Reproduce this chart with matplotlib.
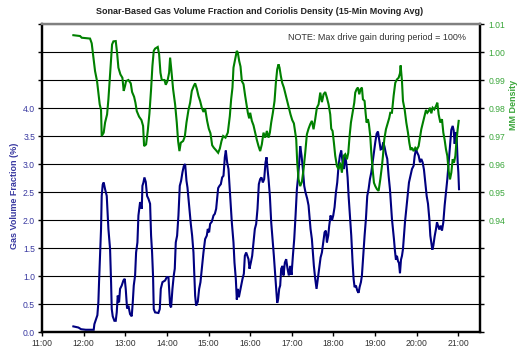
import numpy as np
import matplotlib
matplotlib.use("Agg")
import matplotlib.pyplot as plt

plt.rcParams['font.family'] = ['Liberation Sans', 'DejaVu Sans']

# Clock hours shown on the time axis
hour_ticks = list(range(11, 22))
hour_labels = [f"{h}:00" for h in hour_ticks]

# Sonar-based gas volume fraction (%), 15-min moving average; time in decimal hours
gvf_time = [
    11.753, 11.874, 11.938, 12.050, 12.242, 12.258, 12.298, 12.330, 12.354, 12.370,
    12.394, 12.418, 12.434, 12.458, 12.482, 12.515, 12.555, 12.595, 12.635, 12.659,
    12.675, 12.699, 12.739, 12.771, 12.795, 12.819, 12.851, 12.875, 12.915, 12.955,
    12.987, 13.011, 13.043, 13.075, 13.115, 13.155, 13.180, 13.204, 13.236, 13.260,
    13.292, 13.316, 13.356, 13.396, 13.412, 13.436, 13.460, 13.492, 13.524, 13.556,
    13.596, 13.620, 13.644, 13.668, 13.684, 13.716, 13.796, 13.829, 13.853, 13.893,
    13.957, 13.997, 14.037, 14.053, 14.077, 14.101, 14.133, 14.165, 14.189, 14.213,
    14.245, 14.277, 14.309, 14.341, 14.373, 14.405, 14.438, 14.470, 14.494, 14.518,
    14.542, 14.574, 14.606, 14.638, 14.662, 14.678, 14.702, 14.742, 14.774, 14.806,
    14.838, 14.878, 14.918, 14.958, 14.982, 15.014, 15.038, 15.079, 15.119, 15.151,
    15.183, 15.207, 15.231, 15.263, 15.295, 15.327, 15.359, 15.391, 15.415, 15.447,
    15.479, 15.519, 15.559, 15.599, 15.623, 15.655, 15.679, 15.703, 15.728, 15.760,
    15.784, 15.816, 15.848, 15.872, 15.904, 15.936, 15.960, 15.984, 16.016, 16.048,
    16.080, 16.112, 16.144, 16.176, 16.208, 16.240, 16.272, 16.304, 16.336, 16.369,
    16.393, 16.417, 16.441, 16.473, 16.505, 16.537, 16.569, 16.601, 16.625, 16.649,
    16.673, 16.697, 16.721, 16.745, 16.777, 16.801, 16.833, 16.865, 16.897, 16.929,
    16.961, 16.993, 17.026, 17.058, 17.090, 17.122, 17.146, 17.178, 17.202, 17.234,
    17.266, 17.298, 17.330, 17.370, 17.402, 17.450, 17.482, 17.506, 17.530, 17.562,
    17.594, 17.626, 17.659, 17.691, 17.723, 17.755, 17.787, 17.819, 17.843, 17.875,
    17.899, 17.931, 17.963, 17.995, 18.027, 18.059, 18.091, 18.123, 18.155, 18.187,
    18.219, 18.251, 18.284, 18.316, 18.340, 18.364, 18.396, 18.428, 18.460, 18.484,
    18.508, 18.540, 18.572, 18.604, 18.628, 18.660, 18.684, 18.716, 18.748, 18.780,
    18.812, 18.844, 18.876, 18.909, 18.941, 18.973, 19.005, 19.037, 19.069, 19.101,
    19.133, 19.165, 19.197, 19.229, 19.261, 19.293, 19.325, 19.357, 19.373, 19.405,
    19.429, 19.453, 19.477, 19.501, 19.525, 19.549, 19.574, 19.598, 19.622, 19.646,
    19.670, 19.694, 19.718, 19.750, 19.782, 19.814, 19.846, 19.886, 19.926, 19.950,
    19.982, 20.014, 20.046, 20.078, 20.110, 20.142, 20.174, 20.207, 20.239, 20.271,
    20.303, 20.327, 20.351, 20.375, 20.399, 20.431, 20.463, 20.487, 20.511, 20.543,
    20.575, 20.607, 20.639, 20.671, 20.703, 20.735, 20.767, 20.799, 20.831, 20.864,
    20.888, 20.912, 20.936, 20.960, 20.984, 21.000, 21.016,
]
gvf_pct = [
    0.10, 0.08, 0.05, 0.04, 0.04, 0.14, 0.23, 0.30, 0.53, 0.89,
    1.36, 1.84, 2.43, 2.63, 2.67, 2.55, 2.43, 1.84, 1.48, 0.89,
    0.41, 0.28, 0.20, 0.20, 0.35, 0.65, 0.53, 0.77, 0.83, 0.92,
    0.95, 0.77, 0.42, 0.47, 0.32, 0.28, 0.53, 0.83, 1.01, 1.42,
    1.60, 2.08, 2.32, 2.20, 2.61, 2.67, 2.76, 2.68, 2.43, 2.38,
    2.29, 1.72, 1.42, 0.98, 0.41, 0.35, 0.34, 0.41, 0.77, 0.89,
    0.92, 0.98, 0.98, 0.77, 0.47, 0.44, 0.77, 1.01, 1.13, 1.60,
    1.72, 2.08, 2.61, 2.70, 2.85, 2.96, 3.00, 2.70, 2.58, 2.38,
    2.20, 1.93, 1.72, 1.42, 0.95, 0.65, 0.47, 0.54, 0.77, 0.89,
    1.13, 1.42, 1.66, 1.72, 1.84, 1.78, 1.93, 1.97, 2.08, 2.11,
    2.20, 2.39, 2.57, 2.61, 2.64, 2.76, 2.79, 3.12, 3.24, 3.03,
    2.91, 2.43, 1.96, 1.60, 1.24, 0.95, 0.58, 0.77, 0.62, 0.74,
    0.83, 0.95, 1.04, 1.36, 1.42, 1.35, 1.30, 1.13, 1.24, 1.36,
    1.60, 1.84, 1.93, 2.20, 2.64, 2.73, 2.76, 2.67, 2.73, 3.03,
    3.12, 2.91, 2.73, 2.43, 1.96, 1.66, 1.36, 1.01, 0.77, 0.52,
    0.59, 0.77, 0.83, 1.13, 1.18, 1.01, 1.24, 1.30, 1.13, 1.01,
    1.18, 1.02, 1.36, 1.66, 2.08, 2.55, 2.73, 3.03, 3.32, 3.15,
    2.91, 2.61, 2.49, 2.38, 2.26, 1.84, 1.66, 1.42, 1.18, 0.95,
    0.77, 0.95, 1.13, 1.33, 1.42, 1.60, 1.78, 1.81, 1.60, 1.72,
    1.90, 2.08, 1.99, 2.08, 2.23, 2.49, 2.67, 2.97, 3.15, 3.24,
    3.03, 2.91, 3.15, 2.97, 2.76, 2.43, 2.08, 1.72, 1.24, 0.95,
    0.80, 0.83, 0.74, 0.70, 0.80, 0.89, 1.01, 1.36, 1.72, 2.02,
    2.43, 2.55, 2.73, 2.85, 3.03, 3.21, 3.39, 3.54, 3.58, 3.42,
    3.26, 3.27, 3.39, 3.30, 3.18, 3.09, 2.79, 2.55, 2.38, 2.02,
    1.84, 1.66, 1.45, 1.29, 1.36, 1.27, 1.23, 1.05, 1.29, 1.36,
    1.48, 1.72, 1.96, 2.20, 2.43, 2.67, 2.78, 2.91, 2.97, 3.14,
    3.26, 3.20, 3.15, 3.03, 3.09, 3.03, 2.90, 2.67, 2.43, 2.29,
    2.02, 1.72, 1.60, 1.47, 1.54, 1.71, 1.84, 1.96, 1.90, 1.83,
    1.90, 1.81, 1.96, 2.26, 2.49, 2.73, 3.03, 3.33, 3.61, 3.68,
    3.60, 3.36, 3.57, 3.46, 3.03, 2.85, 2.55,
]

# Coriolis mixture density, 15-min moving average
density_time = [
    11.753, 11.914, 11.954, 12.154, 12.194, 12.226, 12.274, 12.322, 12.354, 12.386,
    12.418, 12.434, 12.482, 12.515, 12.563, 12.595, 12.627, 12.659, 12.683, 12.715,
    12.771, 12.803, 12.835, 12.883, 12.931, 12.963, 12.995, 13.019, 13.075, 13.132,
    13.164, 13.212, 13.244, 13.276, 13.332, 13.388, 13.428, 13.452, 13.500, 13.540,
    13.580, 13.620, 13.652, 13.684, 13.716, 13.780, 13.813, 13.845, 13.877, 13.941,
    13.973, 14.013, 14.053, 14.077, 14.109, 14.149, 14.197, 14.237, 14.269, 14.301,
    14.333, 14.389, 14.430, 14.470, 14.518, 14.558, 14.598, 14.646, 14.678, 14.718,
    14.758, 14.798, 14.838, 14.878, 14.918, 14.966, 15.006, 15.046, 15.087, 15.127,
    15.175, 15.231, 15.271, 15.311, 15.351, 15.407, 15.463, 15.511, 15.543, 15.575,
    15.599, 15.639, 15.679, 15.703, 15.736, 15.768, 15.800, 15.840, 15.880, 15.912,
    15.944, 15.976, 16.000, 16.040, 16.080, 16.120, 16.160, 16.200, 16.240, 16.280,
    16.320, 16.361, 16.401, 16.441, 16.473, 16.505, 16.545, 16.585, 16.617, 16.649,
    16.681, 16.705, 16.737, 16.769, 16.809, 16.849, 16.889, 16.929, 16.969, 17.010,
    17.050, 17.082, 17.106, 17.130, 17.162, 17.202, 17.242, 17.282, 17.322, 17.362,
    17.402, 17.442, 17.482, 17.522, 17.562, 17.602, 17.643, 17.683, 17.723, 17.763,
    17.803, 17.843, 17.883, 17.923, 17.947, 17.979, 18.011, 18.043, 18.083, 18.123,
    18.163, 18.203, 18.243, 18.284, 18.324, 18.356, 18.388, 18.420, 18.460, 18.500,
    18.524, 18.556, 18.588, 18.620, 18.652, 18.684, 18.708, 18.748, 18.772, 18.796,
    18.828, 18.852, 18.884, 18.909, 18.941, 18.973, 19.005, 19.045, 19.085, 19.125,
    19.165, 19.189, 19.221, 19.261, 19.309, 19.341, 19.365, 19.405, 19.421, 19.445,
    19.485, 19.525, 19.566, 19.598, 19.614, 19.646, 19.670, 19.710, 19.750, 19.790,
    19.822, 19.854, 19.886, 19.926, 19.966, 20.006, 20.046, 20.078, 20.110, 20.150,
    20.190, 20.223, 20.255, 20.287, 20.319, 20.351, 20.383, 20.423, 20.463, 20.495,
    20.527, 20.567, 20.607, 20.639, 20.671, 20.703, 20.735, 20.767, 20.799, 20.831,
    20.864, 20.896, 20.928, 20.952, 20.984, 21.008,
]
density_mm = [
    1.0060, 1.0057, 1.0051, 1.0048, 1.0031, 0.9992, 0.9932, 0.9896, 0.9855, 0.9813,
    0.9793, 0.9700, 0.9712, 0.9748, 0.9777, 0.9831, 0.9902, 0.9974, 1.0027, 1.0038,
    1.0039, 0.9998, 0.9944, 0.9920, 0.9908, 0.9861, 0.9879, 0.9896, 0.9900, 0.9888,
    0.9857, 0.9840, 0.9819, 0.9789, 0.9769, 0.9757, 0.9736, 0.9664, 0.9670, 0.9718,
    0.9780, 0.9867, 0.9950, 1.0004, 1.0012, 1.0018, 0.9992, 0.9926, 0.9900, 0.9900,
    0.9883, 0.9896, 0.9926, 0.9980, 0.9932, 0.9867, 0.9813, 0.9748, 0.9682, 0.9646,
    0.9676, 0.9682, 0.9698, 0.9748, 0.9793, 0.9819, 0.9861, 0.9879, 0.9888, 0.9869,
    0.9843, 0.9825, 0.9801, 0.9786, 0.9798, 0.9754, 0.9726, 0.9710, 0.9667, 0.9658,
    0.9650, 0.9640, 0.9655, 0.9682, 0.9700, 0.9694, 0.9712, 0.9771, 0.9831, 0.9873,
    0.9944, 0.9974, 1.0004, 0.9998, 0.9968, 0.9948, 0.9896, 0.9885, 0.9843, 0.9813,
    0.9783, 0.9763, 0.9783, 0.9754, 0.9738, 0.9712, 0.9686, 0.9664, 0.9646, 0.9670,
    0.9712, 0.9694, 0.9718, 0.9694, 0.9712, 0.9748, 0.9783, 0.9825, 0.9890, 0.9938,
    0.9956, 0.9944, 0.9914, 0.9890, 0.9873, 0.9849, 0.9825, 0.9801, 0.9777, 0.9757,
    0.9745, 0.9712, 0.9688, 0.9605, 0.9545, 0.9521, 0.9536, 0.9581, 0.9640, 0.9706,
    0.9726, 0.9742, 0.9754, 0.9724, 0.9760, 0.9801, 0.9813, 0.9855, 0.9821, 0.9849,
    0.9857, 0.9837, 0.9813, 0.9777, 0.9726, 0.9718, 0.9676, 0.9629, 0.9593, 0.9581,
    0.9605, 0.9569, 0.9629, 0.9635, 0.9617, 0.9640, 0.9700, 0.9748, 0.9783, 0.9819,
    0.9855, 0.9867, 0.9873, 0.9849, 0.9867, 0.9873, 0.9831, 0.9825, 0.9783, 0.9748,
    0.9760, 0.9742, 0.9700, 0.9640, 0.9581, 0.9533, 0.9521, 0.9510, 0.9504, 0.9545,
    0.9593, 0.9629, 0.9688, 0.9724, 0.9748, 0.9765, 0.9783, 0.9783, 0.9807, 0.9843,
    0.9890, 0.9902, 0.9908, 0.9924, 0.9952, 0.9896, 0.9825, 0.9795, 0.9748, 0.9712,
    0.9676, 0.9650, 0.9658, 0.9646, 0.9658, 0.9652, 0.9664, 0.9694, 0.9724, 0.9748,
    0.9771, 0.9793, 0.9783, 0.9789, 0.9801, 0.9781, 0.9801, 0.9795, 0.9807, 0.9819,
    0.9777, 0.9748, 0.9760, 0.9712, 0.9686, 0.9652, 0.9629, 0.9575, 0.9545, 0.9569,
    0.9617, 0.9605, 0.9629, 0.9676, 0.9724, 0.9754,
]

gvf_ticks = np.arange(0, 5.51, 0.5)
gvf_labels = [f"{v:.1f}" if v <= 4.0 else "" for v in gvf_ticks]
density_ticks = np.round(np.arange(0.90, 1.0101, 0.01), 2)
density_labels = [f"{v:.2f}" if v >= 0.94 else "" for v in density_ticks]

BLUE = '#000080'
GREEN = '#008000'
BLUE_TXT = '#3838a0'
GREEN_TXT = '#3aa63a'

fig = plt.figure(figsize=(5.18, 3.5), dpi=100)
ax = fig.add_axes([42 / 518, 18 / 350, 438 / 518, 308 / 350])
ax2 = ax.twinx()

ax.set_xlim(11.0, 21.52)
ax.set_ylim(0, 5.5)
ax2.set_ylim(0.90, 1.01)

ax.set_yticks(gvf_ticks)
ax.set_yticklabels(gvf_labels)
ax2.set_yticks(density_ticks)
ax2.set_yticklabels(density_labels)
ax.set_xticks(hour_ticks)
ax.set_xticklabels(hour_labels)

ax.yaxis.grid(True, color='black', linewidth=0.8)
ax.set_axisbelow(True)

ax.plot(gvf_time, gvf_pct, color=BLUE, linewidth=1.5, solid_joinstyle='miter')
ax2.plot(density_time, density_mm, color=GREEN, linewidth=1.5, solid_joinstyle='miter')

for a in (ax, ax2):
    for side in ('left', 'right', 'bottom'):
        a.spines[side].set_color('black')
        a.spines[side].set_linewidth(1.6)
    a.spines['top'].set_color('#808080')
    a.spines['top'].set_linewidth(1.6)

ax.tick_params(axis='y', colors='black', labelcolor=BLUE_TXT, labelsize=6.2,
               length=3, width=1, direction='out', pad=2)
ax2.tick_params(axis='y', colors='black', labelcolor=GREEN_TXT, labelsize=6.2,
                length=3, width=1, direction='out', pad=3)
ax.tick_params(axis='x', colors='black', labelcolor='#333333', labelsize=6.2,
               length=3, width=1, direction='out', pad=2)

fig.text(15 / 518, 0.44, "Gas Volume Fraction (%)", rotation=90, ha='center', va='center',
         color=BLUE_TXT, fontsize=6.5, fontweight='bold')
fig.text(513 / 518, 0.70, "MM Density", rotation=90, ha='center', va='center',
         color=GREEN_TXT, fontsize=6.5, fontweight='bold')

fig.text(0.502, 0.966, "Sonar-Based Gas Volume Fraction and Coriolis Density (15-Min Moving Avg)",
         ha='center', va='center', fontsize=6.5, fontweight='bold', color='#222222')
fig.text(466 / 518, 1 - 37 / 350, "NOTE: Max drive gain during period = 100%",
         ha='right', va='center', fontsize=6.5, color='#333333')

fig.savefig('out.png', dpi=100)
